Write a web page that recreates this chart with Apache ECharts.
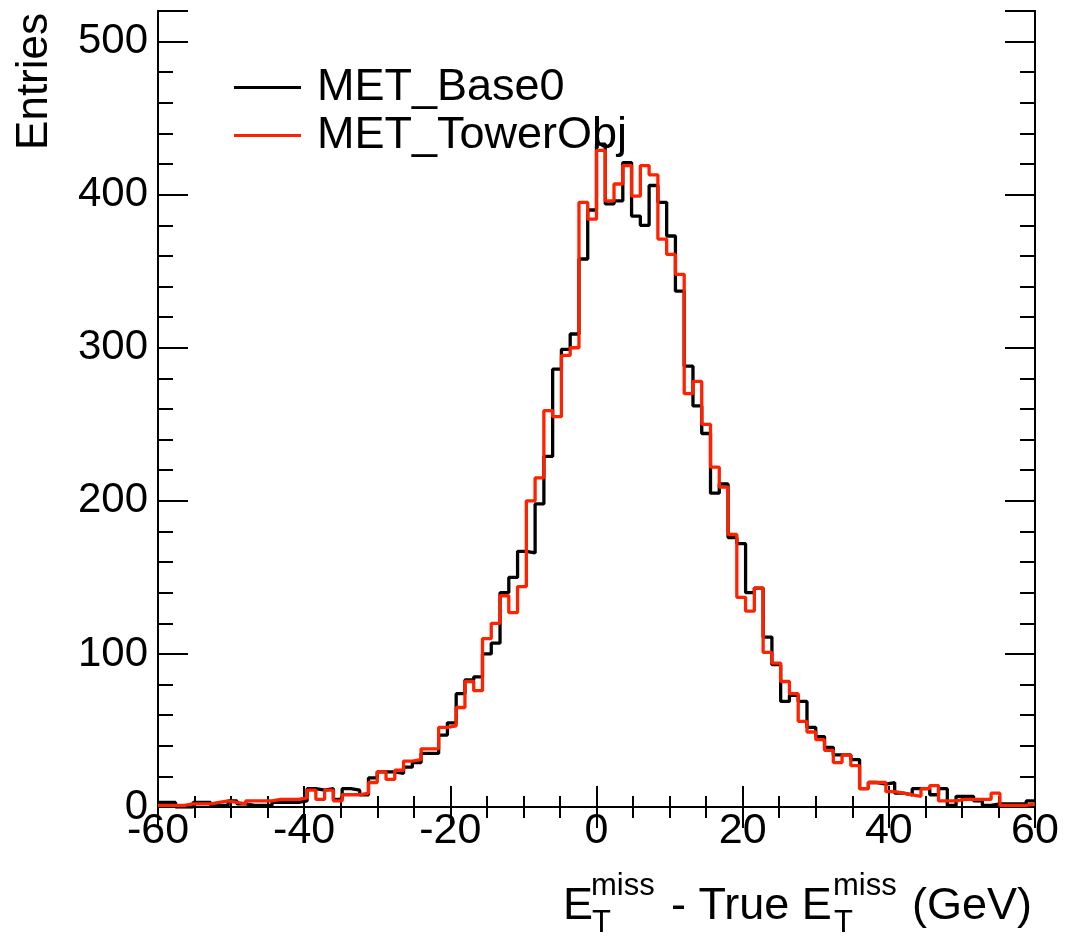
<!DOCTYPE html>
<html><head><meta charset="utf-8">
<script src="https://cdn.jsdelivr.net/npm/echarts@6.0.0/dist/echarts.min.js"></script>
<style>html,body{margin:0;padding:0;background:#fff}#c{width:1066px;height:939px}</style>
</head><body><div id="c"></div>
<script>
// Histogram definition: 100 bins from -60 to 60 GeV
const xMin = -60, xMax = 60, binWidth = 1.2;
const seriesNames = ['MET_Base0', 'MET_TowerObj'];
// Bin contents (bins 0..99, left to right)
const base0 = [
  3,3,0,0,3,3,1,1,4,2, 1,1,1,3,3,3,4,12,11,12,
  5,12,11,8,19,23,23,22,26,29, 35,35,47,55,74,83,85,100,107,140,
  150,167,166,198,229,286,299,309,358,390, 433,394,396,421,386,380,406,395,373,337,
  288,262,244,205,211,176,172,140,143,111, 93,69,73,69,52,46,39,34,34,31,
  12,16,15,16,9,8,12,12,8,12, 1,7,7,4,1,2,2,2,2,4
];
const towerObj = [
  1,1,1,2,2,2,3,4,3,2, 4,4,4,5,5,5,6,11,5,11,
  4,8,8,9,16,23,18,24,30,31, 38,38,52,53,65,82,76,110,120,138,
  127,144,200,215,259,255,295,300,395,384, 429,396,407,419,399,419,413,371,361,348,
  270,278,250,222,209,178,137,128,143,101, 94,82,74,56,49,44,37,29,34,27,
  12,16,16,10,9,8,7,12,14,4, 4,5,5,5,5,9,1,1,1,2
];
const yMax = 520;
const xTickStep = 20, yMajorStep = 100, yMinorStep = 20;

function toSteps(vals) {
  const pts = vals.map((v, i) => [xMin + i * binWidth, v]);
  pts.push([xMax, vals[vals.length - 1]]);
  return pts;
}

const FONT = "'Liberation Sans', Arial, sans-serif";
const black = '#000000';
const red = '#ff2200';

const chart = echarts.init(document.getElementById('c'), null, {renderer: 'canvas'});

const xAxisBase = {
  type: 'value', min: xMin, max: xMax, interval: xTickStep,
  axisLine: {show: true, lineStyle: {color: black, width: 2}},
  axisTick: {show: true, inside: true, length: 21, lineStyle: {color: black, width: 2}},
  minorTick: {show: true, splitNumber: 4, length: 11, lineStyle: {color: black, width: 2}},
  splitLine: {show: false}, minorSplitLine: {show: false}
};
const yMinor = (pos) => ({
  type: 'value', min: 0, max: yMax, interval: yMinorStep, position: pos,
  axisLine: {show: true, onZero: false, lineStyle: {color: black, width: 2}},
  axisTick: {show: true, inside: true, length: 15, lineStyle: {color: black, width: 2}},
  axisLabel: {show: false}, splitLine: {show: false}
});
const yMajor = (pos, labels) => ({
  type: 'value', min: 0, max: yMax, interval: yMajorStep, position: pos,
  axisLine: {show: true, onZero: false, lineStyle: {color: black, width: 2}},
  axisTick: {show: true, inside: true, length: 30, lineStyle: {color: black, width: 2}},
  axisLabel: labels ? {show: true, fontSize: 42, color: black, fontFamily: FONT, margin: 10,
    formatter: v => (v % yMajorStep === 0 ? String(v) : '')} : {show: false},
  splitLine: {show: false}
});

const titleFont = 45, supFont = 31;
const option = {
  animation: false,
  backgroundColor: '#ffffff',
  grid: {left: 158, right: 31, top: 11, bottom: 132, containLabel: false},
  legend: {
    orient: 'vertical', left: 229, top: 60, selectedMode: false,
    icon: 'rect', itemWidth: 67, itemHeight: 3, itemGap: 3,
    textStyle: {fontSize: 45, color: black, fontFamily: FONT, lineHeight: 45, padding: [0, 0, 0, 11]},
    data: seriesNames
  },
  xAxis: [
    Object.assign({}, xAxisBase, {position: 'bottom',
      axisLabel: {show: true, fontSize: 43, color: black, fontFamily: FONT, margin: 3,
        formatter: v => String(v)}}),
    Object.assign({}, xAxisBase, {position: 'top', axisLabel: {show: false}})
  ],
  yAxis: [yMinor('left'), yMajor('left', true), yMinor('right'), yMajor('right', false)],
  series: [
    {name: seriesNames[0], type: 'line', step: 'end', symbol: 'none', showSymbol: false,
     color: black, lineStyle: {color: black, width: 3.3}, data: toSteps(base0), z: 2},
    {name: seriesNames[1], type: 'line', step: 'end', symbol: 'none', showSymbol: false,
     color: red, lineStyle: {color: red, width: 3.3}, data: toSteps(towerObj), z: 3}
  ],
  graphic: [
    {type: 'text', x: 35, y: 13, rotation: Math.PI / 2,
     style: {text: 'Entries', fontSize: 44, fontFamily: FONT, fill: black, align: 'right', verticalAlign: 'middle'}},
    {type: 'text', x: 563, y: 907, style: {text: 'E', fontSize: titleFont, fontFamily: FONT, fill: black, align: 'left', verticalAlign: 'middle'}},
    {type: 'text', x: 591, y: 886, style: {text: 'miss', fontSize: supFont, fontFamily: FONT, fill: black, align: 'left', verticalAlign: 'middle'}},
    {type: 'text', x: 592, y: 923, style: {text: 'T', fontSize: supFont, fontFamily: FONT, fill: black, align: 'left', verticalAlign: 'middle'}},
    {type: 'text', x: 671, y: 907, style: {text: '- True E', fontSize: titleFont, fontFamily: FONT, fill: black, align: 'left', verticalAlign: 'middle'}},
    {type: 'text', x: 833, y: 886, style: {text: 'miss', fontSize: supFont, fontFamily: FONT, fill: black, align: 'left', verticalAlign: 'middle'}},
    {type: 'text', x: 834, y: 923, style: {text: 'T', fontSize: supFont, fontFamily: FONT, fill: black, align: 'left', verticalAlign: 'middle'}},
    {type: 'text', x: 912, y: 907, style: {text: '(GeV)', fontSize: titleFont, fontFamily: FONT, fill: black, align: 'left', verticalAlign: 'middle'}}
  ]
};
chart.setOption(option);
</script>
</body></html>
